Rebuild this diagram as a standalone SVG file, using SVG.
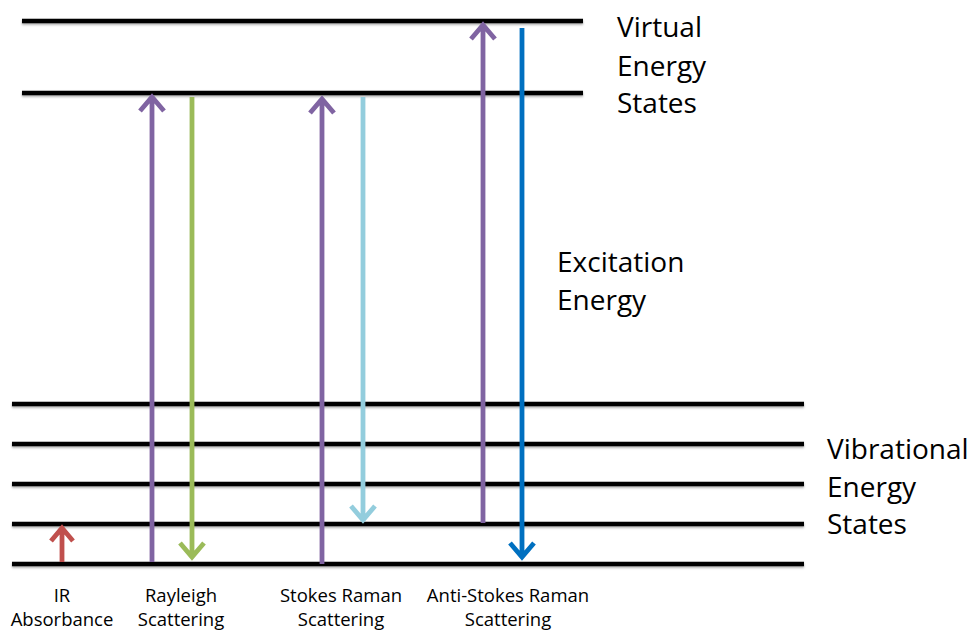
<svg xmlns="http://www.w3.org/2000/svg" width="973" height="630" viewBox="0 0 973 630">
<defs>
<style>
.lvl{stroke:#000;stroke-width:4.5;fill:none}
.arr{stroke-width:4.8;fill:none;stroke-linecap:butt;stroke-linejoin:miter}
.big{font-family:"Open Sans","Liberation Sans",sans-serif;font-size:28px;fill:#000}
.lbl{font-family:"Open Sans","Liberation Sans",sans-serif;font-size:18.5px;fill:#000;text-anchor:middle}
</style>
<filter id="sh" x="-5%" y="-50%" width="110%" height="200%">
<feDropShadow dx="0" dy="1.5" stdDeviation="1" flood-color="#000" flood-opacity="0.35"/>
</filter>
</defs>
<g id="levels" filter="url(#sh)">
<line class="lvl" x1="22" y1="21" x2="583" y2="21"/>
<line class="lvl" x1="22" y1="93" x2="583" y2="93"/>
<line class="lvl" x1="12" y1="404" x2="804" y2="404"/>
<line class="lvl" x1="12" y1="444" x2="804" y2="444"/>
<line class="lvl" x1="12" y1="484" x2="804" y2="484"/>
<line class="lvl" x1="12" y1="524" x2="804" y2="524"/>
<line class="lvl" x1="12" y1="564" x2="804" y2="564"/>
</g>
<g id="connectors">
<g id="ir">
<path class="arr" stroke="#C0504D" d="M62 562 V528 M51 541 L62 528 L73 541"/>
</g>
<g id="rayleigh-up">
<path class="arr" stroke="#8064A2" d="M152 562 V97 M140 111 L152 97 L164 111"/>
</g>
<g id="rayleigh-down">
<path class="arr" stroke="#9BBB59" d="M192 97 V557 M180 543 L192 557 L204 543"/>
</g>
<g id="stokes-up">
<path class="arr" stroke="#8064A2" d="M322 564 V99 M310 113 L322 99 L334 113"/>
</g>
<g id="stokes-down">
<path class="arr" stroke="#93CDDD" d="M363 97 V520 M351 506 L363 520 L375 506"/>
</g>
<g id="antistokes-up">
<path class="arr" stroke="#8064A2" d="M483 523 V25 M471 39 L483 25 L495 39"/>
</g>
<g id="antistokes-down">
<path class="arr" stroke="#0070C0" d="M522 28 V557 M510 543 L522 557 L534 543"/>
</g>
</g>
<g id="virtual-label">
<text class="big" x="617" y="37">Virtual</text>
<text class="big" x="617" y="76">Energy</text>
<text class="big" x="617" y="113">States</text>
</g>
<g id="excitation-label">
<text class="big" x="557" y="272">Excitation</text>
<text class="big" x="557" y="310">Energy</text>
</g>
<g id="vibrational-label">
<text class="big" x="827" y="459">Vibrational</text>
<text class="big" x="827" y="497">Energy</text>
<text class="big" x="827" y="534">States</text>
</g>
<g id="bottom-labels">
<text class="lbl" x="62" y="602">IR</text>
<text class="lbl" x="62" y="626">Absorbance</text>
<text class="lbl" x="181" y="602">Rayleigh</text>
<text class="lbl" x="181" y="626">Scattering</text>
<text class="lbl" x="341" y="602">Stokes Raman</text>
<text class="lbl" x="341" y="626">Scattering</text>
<text class="lbl" x="508" y="602">Anti-Stokes Raman</text>
<text class="lbl" x="508" y="626">Scattering</text>
</g>
</svg>
